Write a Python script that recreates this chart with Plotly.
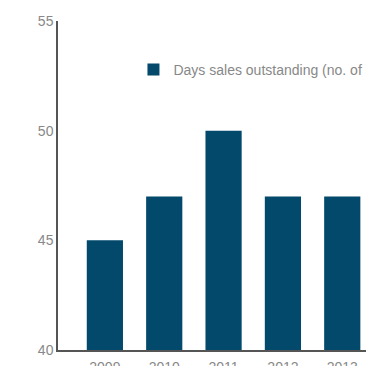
import plotly.graph_objects as go

years = ["2009", "2010", "2011", "2012", "2013"]
dso_days = [45, 47, 50, 47, 47]

fig = go.Figure()
fig.add_trace(go.Bar(
    x=years,
    y=dso_days,
    name="Days sales outstanding (no. of days)",
    marker=dict(color="#02496b", line=dict(width=0)),
    width=0.61,
    showlegend=True,
))

fig.update_layout(
    width=366,
    height=366,
    margin=dict(l=58, r=0, t=21, b=16, autoexpand=False),
    paper_bgcolor="white",
    plot_bgcolor="white",
    font=dict(family="Liberation Sans, Arial, sans-serif", color="#888888", size=14),
    xaxis=dict(
        type="category",
        range=[-0.79, 4.40],
        showgrid=False,
        showline=True,
        linecolor="#555555",
        linewidth=1.5,
        ticks="",
        ticklabelstandoff=3,
        tickfont=dict(size=14, color="#888888"),
        zeroline=False,
        automargin=False,
    ),
    yaxis=dict(
        range=[40, 55],
        tickvals=[40, 45, 50, 55],
        showgrid=False,
        showline=True,
        linecolor="#555555",
        linewidth=1.5,
        ticks="",
        tickfont=dict(size=14, color="#888888"),
        zeroline=False,
        automargin=False,
    ),
    legend=dict(
        x=0.245,
        y=0.851,
        xanchor="left",
        yanchor="middle",
        bgcolor="rgba(0,0,0,0)",
        font=dict(size=14, color="#888888"),
    ),
    bargap=0.39,
)

fig.write_html("out.html")
